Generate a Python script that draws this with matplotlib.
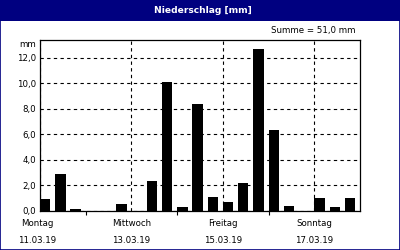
#!/usr/bin/env python3
"""Niederschlag bar chart, 8-hour sums over one week."""

import matplotlib
matplotlib.use("Agg")
import matplotlib.pyplot as plt
from matplotlib.patches import Rectangle
from matplotlib.ticker import FixedLocator, FuncFormatter
from matplotlib.transforms import ScaledTranslation

NAVY = "#000080"

# 8-hour precipitation sums (mm), 3 slots per day, Mo 11.03.19 .. So 17.03.19
rain_mm = [0.9, 2.9, 0.1, 0.0, 0.0, 0.5,
           0.0, 2.3, 10.1, 0.3, 8.4, 1.1,
           0.7, 2.2, 12.7, 6.3, 0.4, 0.0,
           1.0, 0.3, 1.0]
day_labels = ["Montag\n11.03.19", "Mittwoch\n13.03.19",
              "Freitag\n15.03.19", "Sonntag\n17.03.19"]
day_slots = [0, 6, 12, 18]
mid_slots = [3, 9, 15]
y_ticks = [0, 2, 4, 6, 8, 10, 12]
title = "Niederschlag [mm]"
total_label = "Summe = 51,0 mm"


def main():
    fig = plt.figure(figsize=(4.0, 2.5), dpi=100)
    fig.patch.set_facecolor("white")

    # title band and outer frame
    fig.patches.append(Rectangle((0, 0.918), 1, 0.082, transform=fig.transFigure,
                                 facecolor=NAVY, edgecolor="none", zorder=0))
    fig.patches.append(Rectangle((0.0012, 0.002), 0.9976, 0.996, transform=fig.transFigure,
                                 facecolor="none", edgecolor=NAVY, linewidth=1.2, zorder=5))
    fig.text(0.508, 0.958, title, ha="center", va="center", color="white",
             fontsize=6.6, fontweight="bold", family="DejaVu Sans")
    fig.text(0.888, 0.876, total_label, ha="right", va="center", fontsize=6.2)

    ax = fig.add_axes([0.1, 0.157, 0.8, 0.683])
    slots = list(range(len(rain_mm)))
    ax.bar(slots, rain_mm, width=0.68, align="edge", color="black", zorder=3)

    ax.set_xlim(0, len(rain_mm))
    ax.set_ylim(0, 13.4)

    ax.set_yticks(y_ticks)
    ax.yaxis.set_major_formatter(FuncFormatter(lambda v, _: f"{v:.1f}".replace(".", ",")))
    ax.tick_params(axis="y", length=0, pad=3, labelsize=6.2)

    ax.set_xticks(day_slots)
    ax.set_xticklabels(day_labels, linespacing=2.1)
    ax.xaxis.set_minor_locator(FixedLocator(mid_slots))
    ax.tick_params(axis="x", which="major", length=0, pad=6, labelsize=6.2)
    ax.tick_params(axis="x", which="minor", length=3, width=0.8, direction="out")
    first = ax.get_xticklabels()[0]
    first.set_transform(first.get_transform()
                        + ScaledTranslation(-3 / 100, 0, fig.dpi_scale_trans))

    ax.grid(axis="y", color="black", linestyle=(0, (3, 3)), linewidth=0.8, zorder=1)
    ax.grid(axis="x", which="major", color="black", linestyle=(0, (3, 3)),
            linewidth=0.8, zorder=1)
    for spine in ax.spines.values():
        spine.set_linewidth(0.9)
        spine.set_zorder(4)

    ax.text(-0.012, 1.0, "mm", transform=ax.transAxes, ha="right", va="top", fontsize=6.2)

    fig.savefig("out.png", dpi=100)
    plt.close(fig)


if __name__ == "__main__":
    main()
